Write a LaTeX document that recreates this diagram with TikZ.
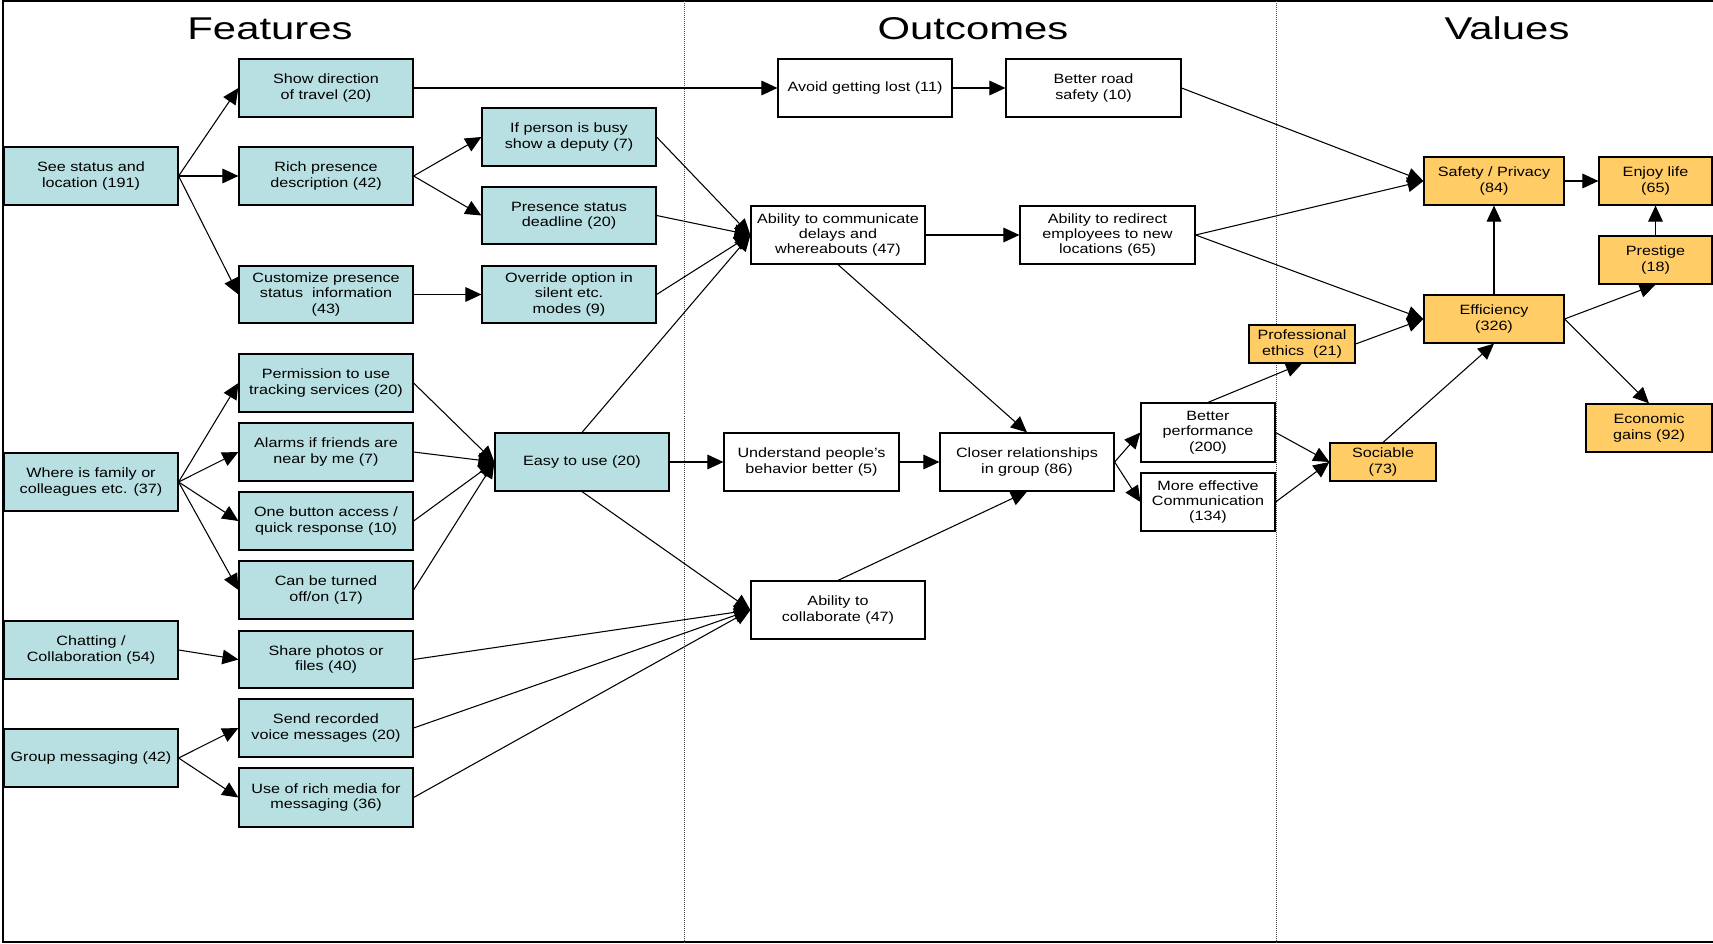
\documentclass[tikz,border=0pt]{standalone}
\usepackage{fontspec}
\setmainfont[FakeStretch=1.2]{Liberation Sans}
\newfontfamily\titlefont[FakeStretch=1.33]{Liberation Sans}
\usetikzlibrary{arrows.meta}
\definecolor{featblue}{HTML}{B8DFE1}
\definecolor{valorange}{HTML}{FFCC66}
% style, x1, y1, x2, y2, name, text
\newcommand\mybox[7]{%
  \pgfmathsetmacro\mycx{(#2+#4)/2}%
  \pgfmathsetmacro\mycy{(#3+#5)/2}%
  \pgfmathsetmacro\mybw{(#4-#2)*0.75}%
  \pgfmathsetmacro\mybh{(#5-#3)*0.75}%
  \node[#1, minimum width=\mybw pt, minimum height=\mybh pt] (#6) at (\mycx,\mycy) {#7};}
\begin{document}
\begin{tikzpicture}[x=0.75pt,y=-0.75pt,
  box/.style={draw=black, line width=0.9pt, inner sep=0pt, align=center,
    font=\fontsize{10.1}{11.5}\selectfont},
  featbox/.style={box, fill=featblue},
  outbox/.style={box, fill=white},
  valbox/.style={box, fill=valorange},
  arr/.style={line width=0.8pt, -{Triangle[length=12pt,width=11pt]}},
  title/.style={font=\titlefont\fontsize{23.6}{28}\selectfont, anchor=base, inner sep=0pt},
  divider/.style={densely dotted, line width=0.5pt, black!70}]
\useasboundingbox (0,0) rectangle (1713,944);
\fill[white] (0,0) rectangle (1713,944);
\draw[line width=1.5pt] (3,1.5) rectangle (1730,942);
\draw[divider] (684,1.5) -- (684,942);
\draw[divider] (1276,1.5) -- (1276,942);

\node[title] (tfeat) at (270,39.5) {Features};
\node[title] (tout) at (973,39.5) {Outcomes};
\node[title] (tval) at (1507,39.5) {Values};

% Features
\mybox{featbox}{4}{147}{178}{205}{see}{See status and\\location (191)}
\mybox{featbox}{239}{59}{413}{117}{show}{Show direction\\of travel (20)}
\mybox{featbox}{239}{147}{413}{205}{rich}{Rich presence\\description (42)}
\mybox{featbox}{239}{266}{413}{323}{cust}{Customize presence\\status\ \ information\\(43)}
\mybox{featbox}{482}{108}{656}{166}{busy}{If person is busy\\show a deputy (7)}
\mybox{featbox}{482}{187}{656}{244}{dead}{Presence status\\deadline (20)}
\mybox{featbox}{482}{266}{656}{323}{over}{Override option in\\silent etc.\\modes (9)}
\mybox{featbox}{4}{453}{178}{511}{where}{Where is family or\\colleagues etc. (37)}
\mybox{featbox}{239}{354}{413}{412}{perm}{Permission to use\\tracking services (20)}
\mybox{featbox}{239}{423}{413}{481}{alarm}{Alarms if friends are\\near by me (7)}
\mybox{featbox}{239}{492}{413}{550}{one}{One button access /\\quick response (10)}
\mybox{featbox}{239}{561}{413}{619}{turn}{Can be turned\\off/on (17)}
\mybox{featbox}{495}{433}{669}{491}{easy}{Easy to use (20)}
\mybox{featbox}{4}{621}{178}{679}{chat}{Chatting /\\Collaboration (54)}
\mybox{featbox}{239}{631}{413}{688}{share}{Share photos or\\files (40)}
\mybox{featbox}{4}{729}{178}{787}{group}{Group messaging (42)}
\mybox{featbox}{239}{699}{413}{757}{voice}{Send recorded\\voice messages (20)}
\mybox{featbox}{239}{768}{413}{827}{media}{Use of rich media for\\messaging (36)}

% Outcomes
\mybox{outbox}{778}{59}{952}{117}{avoid}{Avoid getting lost (11)}
\mybox{outbox}{1006}{59}{1181}{117}{road}{Better road\\safety (10)}
\mybox{outbox}{751}{206}{925}{264}{comm}{Ability to communicate\\delays and\\whereabouts (47)}
\mybox{outbox}{1020}{206}{1195}{264}{redir}{Ability to redirect\\employees to new\\locations (65)}
\mybox{outbox}{724}{433}{899}{491}{under}{Understand people's\\behavior better (5)}
\mybox{outbox}{940}{433}{1114}{491}{closer}{Closer relationships\\in group (86)}
\mybox{outbox}{751}{581}{925}{639}{collab}{Ability to\\collaborate (47)}
\mybox{outbox}{1141}{403}{1275}{462}{perf}{Better\\performance\\(200)}
\mybox{outbox}{1141}{473}{1275}{531}{effc}{More effective\\Communication\\(134)}

% Values
\mybox{valbox}{1424}{157}{1564}{205}{safety}{Safety / Privacy\\(84)}
\mybox{valbox}{1599}{157}{1712}{205}{enjoy}{Enjoy life\\(65)}
\mybox{valbox}{1599}{236}{1712}{284}{prest}{Prestige\\(18)}
\mybox{valbox}{1424}{295}{1564}{343}{eff}{Efficiency\\(326)}
\mybox{valbox}{1249}{325}{1355}{363}{ethics}{Professional\\ethics\ \ (21)}
\mybox{valbox}{1330}{443}{1436}{481}{soc}{Sociable\\(73)}
\mybox{valbox}{1586}{404}{1712}{452}{econ}{Economic\\gains (92)}

% Connectors
\draw[arr] (see.east) -- (show.west);
\draw[arr] (see.east) -- (rich.west);
\draw[arr] (see.east) -- (cust.west);
\draw[arr] (rich.east) -- (busy.west);
\draw[arr] (rich.east) -- (dead.west);
\draw[arr] (cust.east) -- (over.west);
\draw[arr] (show.east) -- (avoid.west);
\draw[arr] (avoid.east) -- (road.west);
\draw[arr] (road.east) -- (safety.west);
\draw[arr] (busy.east) -- (comm.west);
\draw[arr] (dead.east) -- (comm.west);
\draw[arr] (over.east) -- (comm.west);
\draw[arr] (easy.north) -- (comm.west);
\draw[arr] (where.east) -- (perm.west);
\draw[arr] (where.east) -- (alarm.west);
\draw[arr] (where.east) -- (one.west);
\draw[arr] (where.east) -- (turn.west);
\draw[arr] (perm.east) -- (easy.west);
\draw[arr] (alarm.east) -- (easy.west);
\draw[arr] (one.east) -- (easy.west);
\draw[arr] (turn.east) -- (easy.west);
\draw[arr] (easy.east) -- (under.west);
\draw[arr] (easy.south) -- (collab.west);
\draw[arr] (chat.east) -- (share.west);
\draw[arr] (share.east) -- (collab.west);
\draw[arr] (group.east) -- (voice.west);
\draw[arr] (group.east) -- (media.west);
\draw[arr] (voice.east) -- (collab.west);
\draw[arr] (media.east) -- (collab.west);
\draw[arr] (comm.east) -- (redir.west);
\draw[arr] (comm.south) -- (closer.north);
\draw[arr] (under.east) -- (closer.west);
\draw[arr] (collab.north) -- (closer.south);
\draw[arr] (closer.east) -- (perf.west);
\draw[arr] (closer.east) -- (effc.west);
\draw[arr] (perf.north) -- (ethics.south);
\draw[arr] (perf.east) -- (soc.west);
\draw[arr] (effc.east) -- (soc.west);
\draw[arr] (redir.east) -- (safety.west);
\draw[arr] (redir.east) -- (eff.west);
\draw[arr] (ethics.east) -- (eff.west);
\draw[arr] (soc.north) -- (eff.south);
\draw[arr] (eff.north) -- (safety.south);
\draw[arr] (safety.east) -- (enjoy.west);
\draw[arr] (prest.north) -- (enjoy.south);
\draw[arr] (eff.east) -- (prest.south);
\draw[arr] (eff.east) -- (econ.north);
\end{tikzpicture}
\end{document}
